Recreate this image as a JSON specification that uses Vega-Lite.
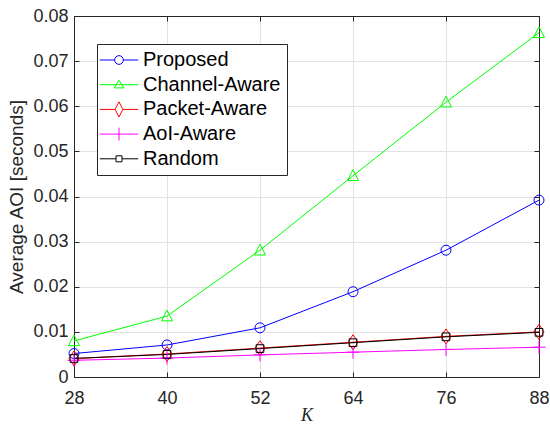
{
  "$schema": "https://vega.github.io/schema/vega-lite/v6.json",
  "width": 465,
  "height": 361,
  "autosize": {"type": "none"},
  "padding": {"left": 74, "top": 16, "right": 11, "bottom": 48},
  "background": "white",
  "config": {
    "view": {"stroke": "#262626", "strokeWidth": 1},
    "font": "Liberation Sans",
    "axis": {
      "labelFont": "Liberation Sans",
      "labelFontSize": 18,
      "labelColor": "#262626",
      "domainColor": "#262626",
      "tickColor": "#262626",
      "gridColor": "#e2e2e2",
      "gridOpacity": 1,
      "labelFlush": false,
      "labelOverlap": false,
      "titleColor": "#262626",
      "titleFontWeight": "normal"
    }
  },
  "datasets": {
    "d": [
      {"K": 28, "aoi": 0.0052, "series": "Proposed"},
      {"K": 40, "aoi": 0.0071, "series": "Proposed"},
      {"K": 52, "aoi": 0.0109, "series": "Proposed"},
      {"K": 64, "aoi": 0.0189, "series": "Proposed"},
      {"K": 76, "aoi": 0.0281, "series": "Proposed"},
      {"K": 88, "aoi": 0.0392, "series": "Proposed"},
      {"K": 28, "aoi": 0.0080, "series": "Channel-Aware"},
      {"K": 40, "aoi": 0.0135, "series": "Channel-Aware"},
      {"K": 52, "aoi": 0.0281, "series": "Channel-Aware"},
      {"K": 64, "aoi": 0.0446, "series": "Channel-Aware"},
      {"K": 76, "aoi": 0.0609, "series": "Channel-Aware"},
      {"K": 88, "aoi": 0.0763, "series": "Channel-Aware"},
      {"K": 28, "aoi": 0.0041, "series": "Packet-Aware"},
      {"K": 40, "aoi": 0.0051, "series": "Packet-Aware"},
      {"K": 52, "aoi": 0.0064, "series": "Packet-Aware"},
      {"K": 64, "aoi": 0.0077, "series": "Packet-Aware"},
      {"K": 76, "aoi": 0.0090, "series": "Packet-Aware"},
      {"K": 88, "aoi": 0.0100, "series": "Packet-Aware"},
      {"K": 28, "aoi": 0.0037, "series": "AoI-Aware"},
      {"K": 40, "aoi": 0.0042, "series": "AoI-Aware"},
      {"K": 52, "aoi": 0.0049, "series": "AoI-Aware"},
      {"K": 64, "aoi": 0.0055, "series": "AoI-Aware"},
      {"K": 76, "aoi": 0.0061, "series": "AoI-Aware"},
      {"K": 88, "aoi": 0.0066, "series": "AoI-Aware"},
      {"K": 28, "aoi": 0.0041, "series": "Random"},
      {"K": 40, "aoi": 0.0050, "series": "Random"},
      {"K": 52, "aoi": 0.0063, "series": "Random"},
      {"K": 64, "aoi": 0.0076, "series": "Random"},
      {"K": 76, "aoi": 0.0089, "series": "Random"},
      {"K": 88, "aoi": 0.0099, "series": "Random"}
    ]
  },
  "layer": [
    {
      "data": {"name": "d"},
      "mark": {"type": "line", "strokeWidth": 1},
      "encoding": {
        "x": {
          "field": "K", "type": "quantitative",
          "scale": {"domain": [28, 88], "nice": false, "zero": false},
          "axis": {
            "values": [28, 40, 52, 64, 76, 88], "format": "d",
            "title": "K", "titleFont": "Liberation Serif", "titleFontStyle": "italic",
            "titleFontSize": 18, "tickSize": -5, "labelPadding": 17, "titlePadding": -1
          }
        },
        "y": {
          "field": "aoi", "type": "quantitative",
          "scale": {"domain": [0, 0.08], "nice": false},
          "axis": {
            "values": [0, 0.01, 0.02, 0.03, 0.04, 0.05, 0.06, 0.07, 0.08], "format": "~g",
            "title": "Average AOI [seconds]", "titleFontSize": 19,
            "tickSize": -5, "labelPadding": 11, "titlePadding": 6
          }
        },
        "color": {
          "field": "series", "type": "nominal",
          "scale": {"domain": ["Proposed", "Channel-Aware", "Packet-Aware", "AoI-Aware", "Random"], "range": ["#0000ff", "#00ff00", "#ff0000", "#ff00ff", "#000000"]},
          "legend": null
        }
      }
    },
    {
      "data": {"name": "d"},
      "mark": {"type": "point", "filled": false, "size": 100, "strokeWidth": 1, "opacity": 1},
      "encoding": {
        "x": {"field": "K", "type": "quantitative", "scale": {"domain": [28, 88], "nice": false, "zero": false}, "axis": null},
        "y": {"field": "aoi", "type": "quantitative", "scale": {"domain": [0, 0.08], "nice": false}, "axis": null},
        "color": {
          "field": "series", "type": "nominal",
          "scale": {"domain": ["Proposed", "Channel-Aware", "Packet-Aware", "AoI-Aware", "Random"], "range": ["#0000ff", "#00ff00", "#ff0000", "#ff00ff", "#000000"]},
          "legend": null
        },
        "shape": {
          "field": "series", "type": "nominal",
          "scale": {"domain": ["Proposed", "Channel-Aware", "Packet-Aware", "AoI-Aware", "Random"], "range": [
            "M-1,0A1,1 0 1,0 1,0A1,1 0 1,0 -1,0Z",
            "M0,-1.2L1.1,0.95L-1.1,0.95Z",
            "M0,-1.5L1,0L0,1.5L-1,0Z",
            "M-1.3,0L1.3,0M0,-1.3L0,1.3",
            "M-0.77,-0.77L0.77,-0.77L0.77,0.77L-0.77,0.77Z"
          ]},
          "legend": null
        }
      }
    },
    {
      "data": {"name": "d"},
      "transform": [{"filter": "false"}],
      "mark": {"type": "point", "filled": false, "size": 64, "strokeWidth": 1, "opacity": 1},
      "encoding": {
        "x": {"field": "K", "type": "quantitative", "scale": {"domain": [28, 88], "nice": false, "zero": false}, "axis": null},
        "y": {"field": "aoi", "type": "quantitative", "scale": {"domain": [0, 0.08], "nice": false}, "axis": null},
        "color": {
          "field": "series", "type": "nominal",
          "scale": {"domain": ["Proposed", "Channel-Aware", "Packet-Aware", "AoI-Aware", "Random"], "range": ["#0000ff", "#00ff00", "#ff0000", "#ff00ff", "#000000"]},
          "legend": {
            "title": null, "orient": "none", "legendX": 23, "legendY": 28,
            "labelFont": "Liberation Sans", "labelFontSize": 20, "labelColor": "#000000",
            "symbolSize": 64, "symbolStrokeWidth": 1, "symbolOffset": 6, "labelOffset": 14,
            "padding": 6, "rowPadding": 4.7, "strokeColor": "#262626", "fillColor": "white",
            "labelLimit": 300
          }
        },
        "shape": {
          "field": "series", "type": "nominal",
          "scale": {"domain": ["Proposed", "Channel-Aware", "Packet-Aware", "AoI-Aware", "Random"], "range": [
            "M-4.8,0L-1.09,0M1.09,0L4.8,0M-1.09,0A1.09,1.09 0 1,0 1.09,0A1.09,1.09 0 1,0 -1.09,0",
            "M-4.8,0L4.8,0M0,-1.1L1.25,0.8L-1.25,0.8Z",
            "M-4.8,0L-0.96,0M0.96,0L4.8,0M0,-1.9L0.96,0L0,1.9L-0.96,0Z",
            "M-4.8,0L4.8,0M0,-1.6L0,1.6",
            "M-4.8,0L-0.75,0M0.75,0L4.8,0M-0.75,-0.75L0.75,-0.75L0.75,0.75L-0.75,0.75Z"
          ]},
          "legend": {
            "title": null, "orient": "none", "legendX": 23, "legendY": 28,
            "labelFont": "Liberation Sans", "labelFontSize": 20, "labelColor": "#000000",
            "symbolSize": 64, "symbolStrokeWidth": 1, "symbolOffset": 6, "labelOffset": 14,
            "padding": 6, "rowPadding": 4.7, "strokeColor": "#262626", "fillColor": "white",
            "labelLimit": 300
          }
        }
      }
    },
    {
      "data": {"name": "d"},
      "mark": {"type": "point", "opacity": 0},
      "encoding": {
        "x": {"field": "K", "type": "quantitative", "scale": {"domain": [28, 88], "nice": false, "zero": false},
          "axis": {"orient": "top", "values": [28, 40, 52, 64, 76, 88], "labels": false, "title": null, "grid": false, "tickSize": -5}},
        "y": {"field": "aoi", "type": "quantitative", "scale": {"domain": [0, 0.08], "nice": false},
          "axis": {"orient": "right", "values": [0, 0.01, 0.02, 0.03, 0.04, 0.05, 0.06, 0.07, 0.08], "labels": false, "title": null, "grid": false, "tickSize": -5}}
      }
    }
  ],
  "resolve": {"scale": {"x": "independent", "y": "independent", "color": "independent", "shape": "independent"}}
}
